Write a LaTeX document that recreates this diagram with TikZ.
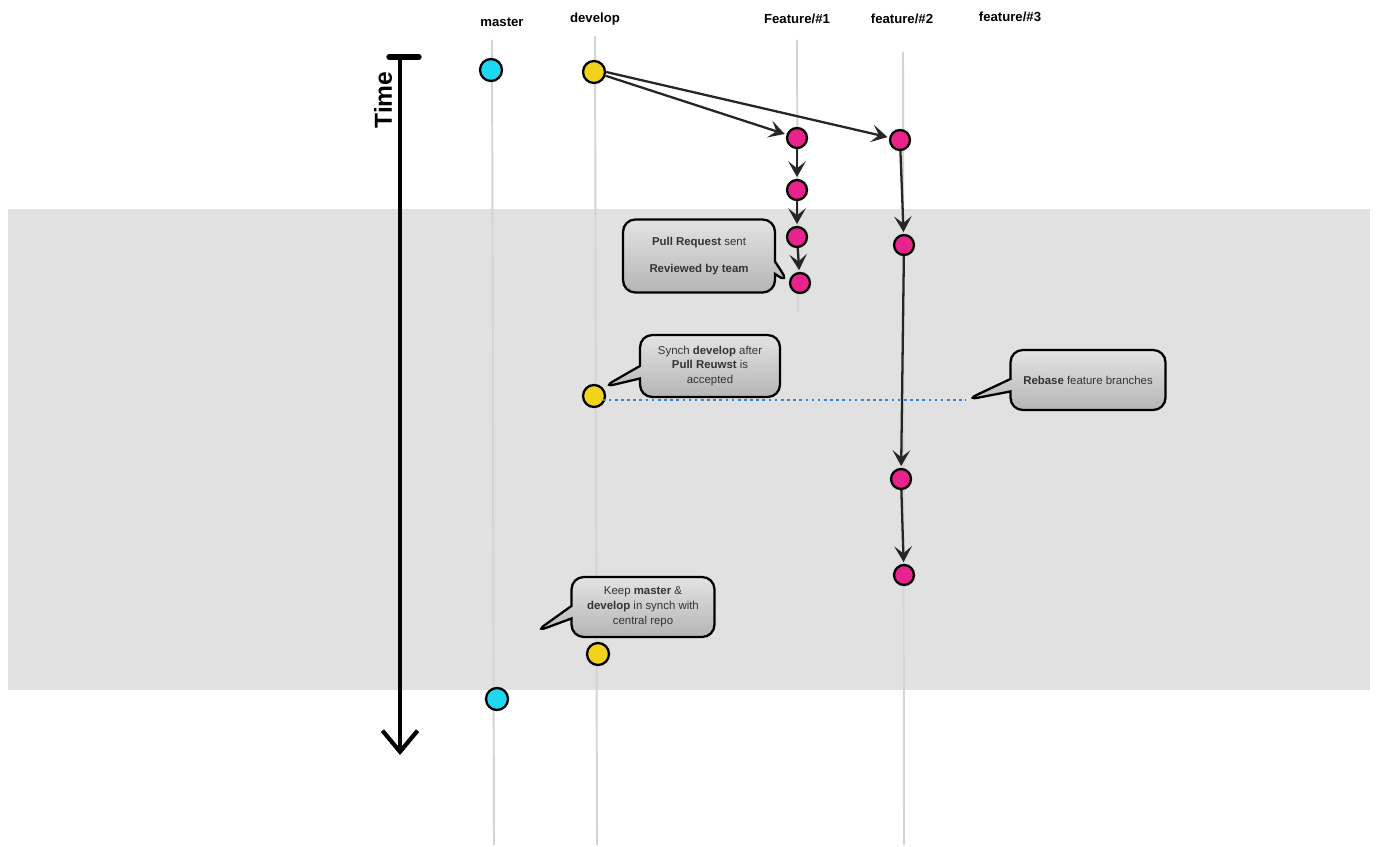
\documentclass[tikz,border=0pt]{standalone}
\usepackage{fontspec}
\setmainfont{Liberation Sans}
\usetikzlibrary{positioning,arrows.meta,shapes.callouts}

\definecolor{mastercol}{HTML}{1ED8F2}
\definecolor{developcol}{HTML}{F2D21A}
\definecolor{featurecol}{HTML}{E8248C}
\definecolor{branchline}{HTML}{D4D4D4}
\definecolor{bandgray}{HTML}{E1E1E1}
\definecolor{syncblue}{HTML}{3A80D0}

\tikzset{
  commit/.style={circle,draw=black,line width=1.3pt,minimum size=0.44cm,inner sep=0pt},
  mastercommit/.style={commit,fill=mastercol},
  developcommit/.style={commit,fill=developcol},
  featurecommit/.style={commit,fill=featurecol,minimum size=0.4cm},
  branchname/.style={font=\bfseries\fontsize{7.5}{9}\selectfont},
  branch/.style={branchline,line width=1.1pt},
  flow/.style={-{Stealth[length=9pt,width=10pt,inset=4pt]},line width=1.3pt,black!85,shorten >=1pt},
  bubble/.style={rectangle callout,rounded corners=7pt,draw=black,line width=1.3pt,
    top color=gray!22,bottom color=gray!58,align=center,text=black!80,
    font=\fontsize{6.5}{8.5}\selectfont,callout pointer width=0.25cm}
}

\begin{document}
\begin{tikzpicture}[x=0.02cm,y=-0.02cm]
  \useasboundingbox (0,0) rectangle (1378,847);

  % background band
  \fill[bandgray] (8,209) rectangle (1370,690);

  % branch names
  \node[branchname] (nmaster) at (502,22) {master};
  \node[branchname] (ndevelop) at (595,19) {develop};
  \node[branchname] (nf1) at (797,19) {Feature/\#1};
  \node[branchname] (nf2) at (902,19) {feature/\#2};
  \node[branchname] (nf3) at (1010,17) {feature/\#3};

  % branch lines
  \draw[branch] (492,40) -- (494,845);
  \draw[branch] (595,36) -- (597,845);
  \draw[branch] (797,40) -- (798,312);
  \draw[branch] (903,52) -- (904,845);

  % time axis
  \draw[line width=3pt,line cap=round] (389,57) -- (419,57);
  \draw[line width=2.6pt,-{Straight Barb[length=12pt,width=20pt,line width=2.4pt]}] (400,58) -- (400,755);
  \node[rotate=90,font=\bfseries\fontsize{14}{16}\selectfont] (time) at (383,100) {Time};

  % master
  \node[mastercommit] (ma1) at (491,70) {};
  \node[mastercommit] (ma2) at (497,699) {};

  % develop
  \node[developcommit] (dv1) at (594,72) {};
  \node[developcommit] (dv2) at (594,396) {};
  \node[developcommit] (dv3) at (598,654) {};

  % feature/#1
  \node[featurecommit] (fa1) at (797,138) {};
  \node[featurecommit] (fa2) at (797,190) {};
  \node[featurecommit] (fa3) at (797,237) {};
  \node[featurecommit] (fa4) at (800,283) {};

  % feature/#2
  \node[featurecommit] (fb1) at (900,140) {};
  \node[featurecommit] (fb2) at (904,245) {};
  \node[featurecommit] (fb3) at (901,479) {};
  \node[featurecommit] (fb4) at (904,575) {};

  % branching off develop
  \draw[flow] (dv1) -- (fa1);
  \draw[flow] (dv1.east) -- (fb1);
  \draw[flow] (fa1) -- (fa2);
  \draw[flow] (fa2) -- (fa3);
  \draw[flow] (fa3) -- (fa4);
  \draw[flow] (fb1) -- (fb2);
  \draw[flow] (fb2) -- (fb3);
  \draw[flow] (fb3) -- (fb4);

  % sync line
  \coordinate (rb) at (966,400);
  \draw[syncblue,dotted,line width=1.5pt] (dv2.south east |- rb) -- (rb);

  % callouts
  \node[bubble,minimum width=3.04cm,minimum height=1.46cm,callout absolute pointer={(fa4.west)}]
    (pr) at (699,256) {\textbf{Pull Request} sent\\[7pt]\textbf{Reviewed by team}};
  \node[bubble,minimum width=2.8cm,minimum height=1.24cm,callout absolute pointer={(dv2.north east)}]
    (sync) at (710,366) {Synch \textbf{develop} after\\\textbf{Pull Reuwst} is\\accepted};
  \node[bubble,minimum width=3.1cm,minimum height=1.2cm,callout absolute pointer={(rb)}]
    (rebase) at (1088,380) {\textbf{Rebase} feature branches};
  \coordinate (kp) at (535,632);
  \node[bubble,minimum width=2.86cm,minimum height=1.2cm,callout absolute pointer={(kp)}]
    (keep) at (643,607) {Keep \textbf{master} \&\\\textbf{develop} in synch with\\central repo};
\end{tikzpicture}
\end{document}
